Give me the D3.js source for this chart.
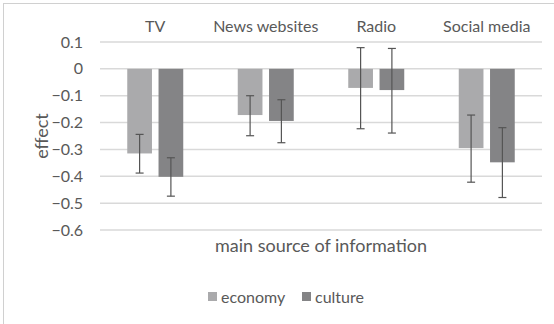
<!DOCTYPE html>
<html>
<head>
<meta charset="utf-8">
<script src="https://cdn.jsdelivr.net/npm/d3@7"></script>
<style>
  body { margin: 0; background: #fff; }
  text { font-family: Lato, "Open Sans", sans-serif; fill: #595959; }
</style>
</head>
<body>
<div id="chart"></div>
<script>
// data
var categories = ["TV", "News websites", "Radio", "Social media"]
var seriesNames = ["economy", "culture"]
var economy = [-0.315, -0.172, -0.071, -0.295]
var economyLow = [-0.388, -0.249, -0.223, -0.422]
var economyHigh = [-0.244, -0.100, 0.079, -0.172]
var culture = [-0.402, -0.194, -0.079, -0.348]
var cultureLow = [-0.474, -0.275, -0.239, -0.479]
var cultureHigh = [-0.331, -0.115, 0.076, -0.219]
var yTicks = [0.1, 0, -0.1, -0.2, -0.3, -0.4, -0.5, -0.6]
var colors = ["#aaaaac", "#848486"]

var W = 554, H = 324
var svg = d3.select("#chart").append("svg")
  .attr("width", W).attr("height", H)

// outer chart frame (only top/left visible in the crop)
svg.append("rect")
  .attr("x", 3.5).attr("y", 3.5)
  .attr("width", W + 10).attr("height", H + 10)
  .attr("fill", "none").attr("stroke", "#d0d0d0")

var left = 100, right = 542
var y = d3.scaleLinear().domain([0.1, -0.6]).range([42, 230])
var x = d3.scaleBand().domain(categories).range([left, right])
var xs = d3.scaleBand().domain(seriesNames).range([-28, 28]).paddingInner(0.21)

// grid
svg.append("g").selectAll("line")
  .data(yTicks).enter().append("line")
  .attr("x1", left).attr("x2", right)
  .attr("y1", function(d) { return y(d) }).attr("y2", function(d) { return y(d) })
  .attr("stroke", "#d9d9d9").attr("stroke-width", 1.5)

// y tick labels
svg.append("g").selectAll("text")
  .data(yTicks).enter().append("text")
  .attr("x", 83).attr("y", function(d) { return y(d) })
  .attr("dy", "0.35em").attr("text-anchor", "end")
  .style("font-size", "16px")
  .text(function(d) { return d === 0 ? "0" : d3.format(".1f")(d) })

// category labels on top
svg.append("g").selectAll("text")
  .data(categories).enter().append("text")
  .attr("x", function(d) { return x(d) + x.bandwidth() / 2 })
  .attr("y", 26).attr("dy", "0.35em").attr("text-anchor", "middle")
  .style("font-size", "16px")
  .text(function(d) { return d })

var series = [
  { name: "economy", vals: economy, lo: economyLow, hi: economyHigh },
  { name: "culture", vals: culture, lo: cultureLow, hi: cultureHigh }
]

series.forEach(function(s, si) {
  var g = svg.append("g")
  var rows = categories.map(function(c, i) {
    return { cat: c, v: s.vals[i], lo: s.lo[i], hi: s.hi[i] }
  })
  g.selectAll("rect").data(rows).enter().append("rect")
    .attr("x", function(d) { return x(d.cat) + x.bandwidth() / 2 + xs(s.name) })
    .attr("y", function(d) { return y(Math.max(0, d.v)) })
    .attr("width", xs.bandwidth())
    .attr("height", function(d) { return Math.abs(y(d.v) - y(0)) })
    .attr("fill", colors[si])

  var cx = function(d) { return x(d.cat) + x.bandwidth() / 2 + xs(s.name) + xs.bandwidth() / 2 }
  var eb = g.selectAll("g.err").data(rows).enter().append("g")
  eb.append("line")
    .attr("x1", cx).attr("x2", cx)
    .attr("y1", function(d) { return y(d.hi) }).attr("y2", function(d) { return y(d.lo) })
  eb.append("line")
    .attr("x1", function(d) { return cx(d) - 4 }).attr("x2", function(d) { return cx(d) + 4 })
    .attr("y1", function(d) { return y(d.hi) }).attr("y2", function(d) { return y(d.hi) })
  eb.append("line")
    .attr("x1", function(d) { return cx(d) - 4 }).attr("x2", function(d) { return cx(d) + 4 })
    .attr("y1", function(d) { return y(d.lo) }).attr("y2", function(d) { return y(d.lo) })
  eb.selectAll("line").attr("stroke", "#555").attr("stroke-width", 1.2)
})

// axis titles
svg.append("text")
  .attr("transform", "translate(42," + y(-0.25) + ") rotate(-90)")
  .attr("text-anchor", "middle").attr("dy", "0.35em")
  .style("font-size", "18px")
  .text("effect")

svg.append("text")
  .attr("x", (left + right) / 2).attr("y", 246).attr("dy", "0.35em")
  .attr("text-anchor", "middle")
  .style("font-size", "18px")
  .text("main source of information")

// legend
var legendX = [208, 302]
var lg = svg.append("g").selectAll("g")
  .data(seriesNames).enter().append("g")
  .attr("transform", function(d, i) { return "translate(" + legendX[i] + ",297)" })
lg.append("rect").attr("x", 0).attr("y", -5).attr("width", 9).attr("height", 9)
  .attr("fill", function(d, i) { return colors[i] })
lg.append("text").attr("x", 13).attr("dy", "0.35em")
  .style("font-size", "16px")
  .text(function(d) { return d })
</script>
</body>
</html>
